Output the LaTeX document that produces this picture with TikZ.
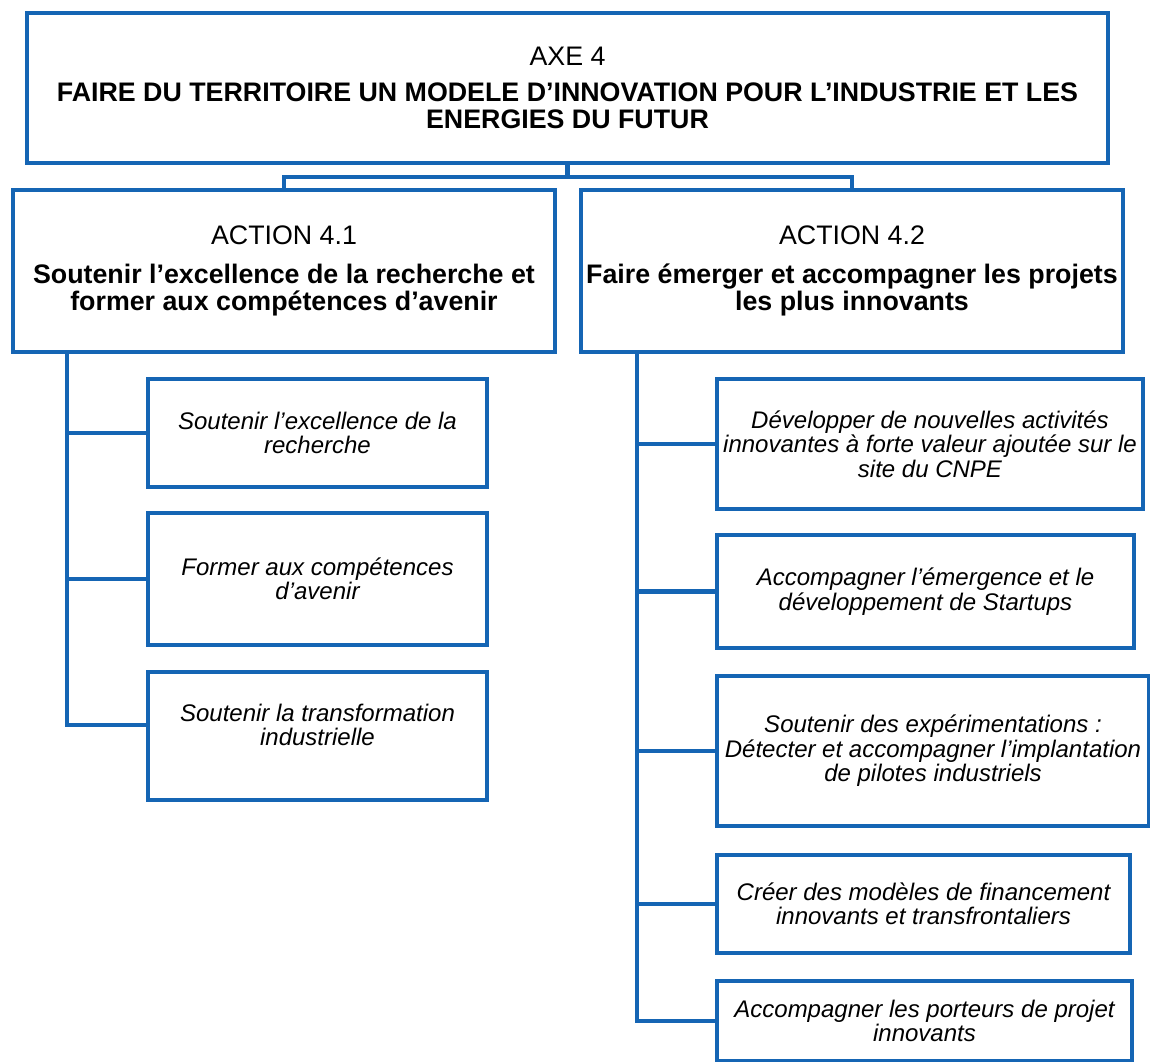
\documentclass[tikz,border=0pt]{standalone}
\usepackage{fontspec}
\setmainfont{Liberation Sans}
\usepackage{tikz}
\usetikzlibrary{calc}
\definecolor{axeblue}{RGB}{21,101,180}

\begin{document}
\begin{tikzpicture}[x=0.02cm,y=-0.02cm,
    box/.style={draw=axeblue, line width=2.3pt, rectangle, inner sep=0pt, align=center},
    boxsize/.style 2 args={minimum width=#1*0.02cm, minimum height=#2*0.02cm},
    head/.style={box, font=\fontsize{15.25}{15.6}\selectfont},
    sub/.style={box, font=\fontsize{13.66}{13.9}\selectfont\itshape},
    link/.style={axeblue, line width=2.8pt}]
    \useasboundingbox (0,0) rectangle (1150,1062);
    % axe et actions
    \node[head, boxsize={1081}{150}] (axe) at (567.5,88) {AXE 4\\[5pt]\textbf{FAIRE DU TERRITOIRE UN MODELE D’INNOVATION POUR L’INDUSTRIE ET LES}\\\textbf{ENERGIES DU FUTUR}};
    \node[head, boxsize={542}{162}] (a41) at (284,271) {ACTION 4.1\\[6.8pt]\textbf{Soutenir l’excellence de la recherche et}\\\textbf{former aux compétences d’avenir}};
    \node[head, boxsize={542}{162}] (a42) at (852,271) {ACTION 4.2\\[6.8pt]\textbf{Faire émerger et accompagner les projets}\\\textbf{les plus innovants}};
    % sous-actions 4.1
    \node[sub, boxsize={339}{108}] (b1) at (317.5,433) {Soutenir l’excellence de la\\recherche};
    \node[sub, boxsize={339}{132}] (b2) at (317.5,579) {Former aux compétences\\d’avenir};
    \node[sub, boxsize={339}{128}, text depth=12.5pt] (b3) at (317.5,736) {Soutenir la transformation\\industrielle};
    % sous-actions 4.2
    \node[sub, boxsize={426}{130}] (r1) at (930,444) {Développer de nouvelles activités\\innovantes à forte valeur ajoutée sur le\\site du CNPE};
    \node[sub, boxsize={417}{113}] (r2) at (925.5,591.5) {Accompagner l’émergence et le\\développement de Startups};
    \node[sub, boxsize={432}{150}] (r3) at (933,751) {Soutenir des expérimentations :\\Détecter et accompagner l’implantation\\de pilotes industriels};
    \node[sub, boxsize={413}{98}] (r4) at (923.5,904) {Créer des modèles de financement\\innovants et transfrontaliers};
    \node[sub, boxsize={415}{80}] (r5) at (924.5,1021) {Accompagner les porteurs de projet\\innovants};
    % liaisons
    \coordinate (jn) at (570,177);
    \coordinate (tl) at (67,352);
    \coordinate (tr) at (637,352);
    \coordinate (e3) at (67,725);
    \draw[link] (axe.south) -- (axe.south |- jn) -| (a41.north);
    \draw[link] (axe.south |- jn) -| (a42.north);
    \draw[link] (tl) -- (e3) -- (e3 -| b3.west);
    \foreach \b in {b1,b2}
        \draw[link] (tl |- \b.west) -- (\b.west);
    \draw[link] (tr) |- (r5.west);
    \foreach \b in {r1,r2,r3,r4}
        \draw[link] (tr |- \b.west) -- (\b.west);
\end{tikzpicture}
\end{document}
